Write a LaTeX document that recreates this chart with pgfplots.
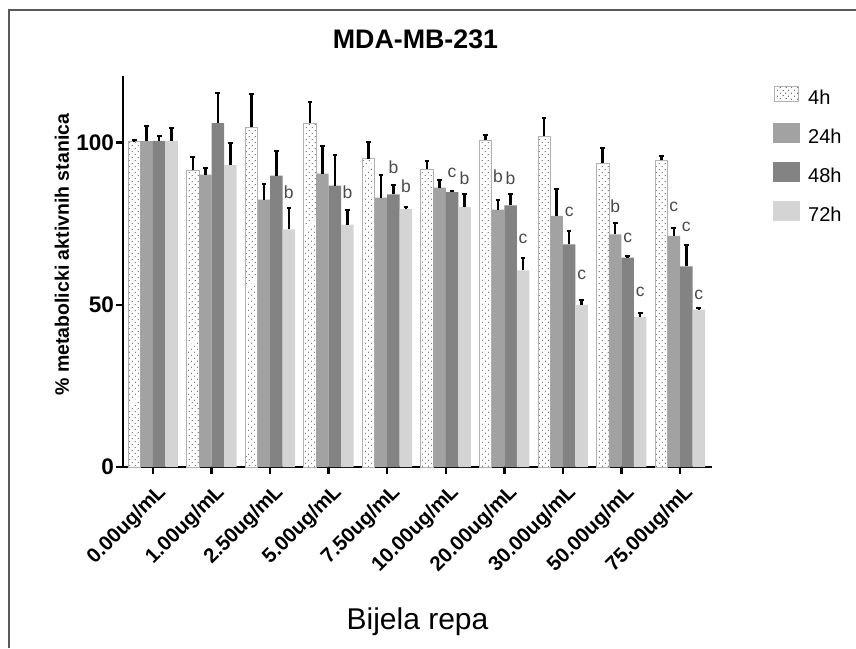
\documentclass[border=0pt]{standalone}
\usepackage{pgfplots}
\usepackage{pgfplotstable}
\pgfplotsset{compat=1.18}
\usepackage{fontspec}
\setmainfont{Liberation Sans}
\usetikzlibrary{patterns.meta}

\definecolor{c24}{HTML}{A2A2A2}
\definecolor{c48}{HTML}{838383}
\definecolor{c72}{HTML}{D4D4D4}
\definecolor{lettergray}{HTML}{4A4A4A}

\pgfplotsset{
  boxlegend/.style={legend image code/.code={\fill[##1] (0pt,-6pt) rectangle (27pt,14pt);}},
  dotlegend/.style={legend image code/.code={\draw[##1] (1.5pt,-3pt) rectangle (25.5pt,12pt);}},
  letters/.style={draw=none, fill=none, forget plot,
    nodes near coords, point meta=explicit symbolic,
    every node near coord/.append style={font=\fontsize{17.5}{17.5}\selectfont, text=lettergray, inner sep=0pt, anchor=south}},
}

% mean and (upper) error for each time point
\pgfplotstableread{
x v4 e4 v24 e24 v48 e48 v72 e72
0 100.3 0.5 100.4 4.6 100.5 1.4 100.5 4.0
1 91.4 4.0 90.1 2.2 106.0 9.3 93.0 6.7
2 104.8 10.0 82.4 4.7 89.8 7.7 73.2 6.7
3 106.0 6.5 90.4 8.4 86.7 9.3 74.7 4.6
4 95.0 5.1 83.0 6.9 84.0 3.0 79.5 0.5
5 91.7 2.6 86.1 2.5 84.7 0.5 80.1 4.1
6 100.7 1.5 79.3 3.0 80.6 3.4 60.6 3.8
7 102.0 5.7 77.4 8.4 68.6 4.0 50.0 1.6
8 93.7 4.7 71.7 3.5 64.5 0.4 46.2 1.2
9 94.5 1.3 71.2 2.6 61.8 6.5 48.5 0.4
}\data

% significance letters (y = baseline of letter)
\pgfplotstableread{
x y l
6 87.5 b
8 78.4 b
9 78.6 c
}\lettersB
\pgfplotstableread{
x y l
4 90.3 b
5 89.0 c
6 87.0 b
7 77.2 c
8 69.0 c
9 72.6 c
}\lettersC
\pgfplotstableread{
x y l
2 82.7 b
3 82.6 b
4 84.4 b
5 86.9 b
6 68.7 c
7 57.7 c
8 52.5 c
9 51.5 c
}\lettersD

\begin{document}
\begin{tikzpicture}
\begin{axis}[
  width=589pt, height=391pt, scale only axis,
  ybar=0pt, bar width=12.5pt,
  xmin=-0.512, xmax=9.546, ymin=0, ymax=120.5,
  clip=false,
  axis x line*=bottom, axis y line*=left,
  axis line style={line width=2.5pt, black},
  tick style={line width=2.5pt, black},
  major tick length=7pt, tick align=outside,
  xtick={0,...,9},
  xticklabels={0.00ug/mL,1.00ug/mL,2.50ug/mL,5.00ug/mL,7.50ug/mL,10.00ug/mL,20.00ug/mL,30.00ug/mL,50.00ug/mL,75.00ug/mL},
  xticklabel style={yshift=-7pt, xshift=3pt, rotate=45, anchor=north east, inner sep=1pt,
    font=\bfseries\fontsize{20.5}{20.5}\selectfont},
  ytick={0,50,100}, yticklabels={0,50,100},
  yticklabel style={font=\bfseries\fontsize{22.5}{22.5}\selectfont, inner sep=2pt},
  title={MDA-MB-231},
  title style={at={(axis description cs:0.4966,1.0554)}, anchor=base,
    font=\bfseries\fontsize{26.8}{27}\selectfont},
  ylabel={\% metabolicki aktivnih stanica},
  ylabel style={at={(axis description cs:-0.1036,0.543)}, anchor=center,
    font=\bfseries\fontsize{19.5}{20}\selectfont},
  xlabel={Bijela repa},
  xlabel style={at={(axis description cs:0.5,-0.4158)}, anchor=base,
    font=\fontsize{30}{30}\selectfont},
  error bars/error bar style={line width=2.5pt, black},
  error bars/error mark options={rotate=90, black, line width=2pt, mark size=2.3pt},
  legend style={at={(axis description cs:1.1036,0.975)}, anchor=north west,
    draw=none, fill=none, inner sep=0pt, column sep=6pt, row sep=15pt,
    font=\fontsize{20}{20}\selectfont},
  legend cell align=left,
]
\addplot[bar shift=-18.75pt, fill=white, draw=black!30, line width=0.8pt,
  postaction={pattern={Dots[angle=45, distance=4pt, radius=0.6pt]}, pattern color=black!75},
  dotlegend,
  error bars/.cd, y dir=plus, y explicit]
  table[x=x, y=v4, y error=e4] {\data};
\addlegendentry{4h}
\addplot[bar shift=-6.25pt, fill=c24, draw=none, boxlegend,
  error bars/.cd, y dir=plus, y explicit]
  table[x=x, y=v24, y error=e24] {\data};
\addlegendentry{24h}
\addplot[bar shift=6.25pt, fill=c48, draw=none, boxlegend,
  error bars/.cd, y dir=plus, y explicit]
  table[x=x, y=v48, y error=e48] {\data};
\addlegendentry{48h}
\addplot[bar shift=18.75pt, fill=c72, draw=none, boxlegend,
  error bars/.cd, y dir=plus, y explicit]
  table[x=x, y=v72, y error=e72] {\data};
\addlegendentry{72h}

% letters above the bars
\addplot[letters, bar shift=-6.25pt] table[x=x, y=y, meta=l] {\lettersB};
\addplot[letters, bar shift=6.25pt] table[x=x, y=y, meta=l] {\lettersC};
\addplot[letters, bar shift=18.75pt] table[x=x, y=y, meta=l] {\lettersD};
\end{axis}
\pgfresetboundingbox
\path[use as bounding box] (-123pt,-181pt) rectangle (733pt,467pt);
\draw[line width=1.5pt, black!65] (-114pt,-181pt) -- (-114pt,457pt) -- (733pt,457pt);
\end{tikzpicture}
\end{document}
